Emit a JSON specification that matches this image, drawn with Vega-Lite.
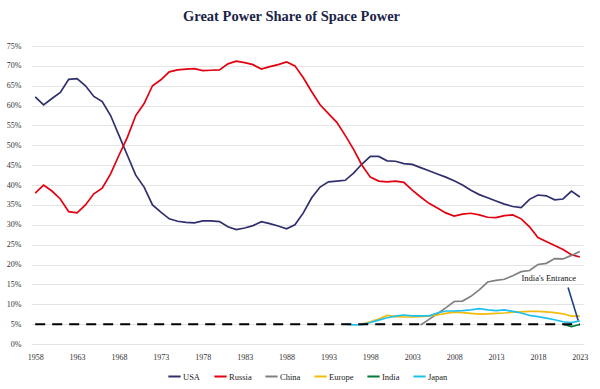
{
  "$schema": "https://vega.github.io/schema/vega-lite/v6.json",
  "width": 600,
  "height": 389,
  "autosize": {"type": "fit", "contains": "padding"},
  "padding": {"left": 6, "right": 12, "top": 8, "bottom": 8},
  "background": "white",
  "title": {"text": "Great Power Share of Space Power", "font": "Liberation Serif", "fontSize": 14.5, "fontWeight": "bold", "color": "#1B2448", "offset": 18, "dx": -16},
  "datasets": {
    "series": [
      {"country":"USA","year":1958,"share":62.2},{"country":"USA","year":1959,"share":60.2},{"country":"USA","year":1960,"share":61.8},{"country":"USA","year":1961,"share":63.3},{"country":"USA","year":1962,"share":66.6},{"country":"USA","year":1963,"share":66.8},{"country":"USA","year":1964,"share":65},{"country":"USA","year":1965,"share":62.3},{"country":"USA","year":1966,"share":61},{"country":"USA","year":1967,"share":57.5},
      {"country":"USA","year":1968,"share":52.5},{"country":"USA","year":1969,"share":47.5},{"country":"USA","year":1970,"share":42.5},{"country":"USA","year":1971,"share":39.5},{"country":"USA","year":1972,"share":35},{"country":"USA","year":1973,"share":33.2},{"country":"USA","year":1974,"share":31.5},{"country":"USA","year":1975,"share":30.9},{"country":"USA","year":1976,"share":30.6},{"country":"USA","year":1977,"share":30.5},
      {"country":"USA","year":1978,"share":31},{"country":"USA","year":1979,"share":31},{"country":"USA","year":1980,"share":30.8},{"country":"USA","year":1981,"share":29.5},{"country":"USA","year":1982,"share":28.8},{"country":"USA","year":1983,"share":29.2},{"country":"USA","year":1984,"share":29.8},{"country":"USA","year":1985,"share":30.8},{"country":"USA","year":1986,"share":30.3},{"country":"USA","year":1987,"share":29.7},
      {"country":"USA","year":1988,"share":29},{"country":"USA","year":1989,"share":30},{"country":"USA","year":1990,"share":33},{"country":"USA","year":1991,"share":36.8},{"country":"USA","year":1992,"share":39.5},{"country":"USA","year":1993,"share":40.8},{"country":"USA","year":1994,"share":41},{"country":"USA","year":1995,"share":41.2},{"country":"USA","year":1996,"share":43},{"country":"USA","year":1997,"share":45.3},
      {"country":"USA","year":1998,"share":47.2},{"country":"USA","year":1999,"share":47.2},{"country":"USA","year":2000,"share":46.1},{"country":"USA","year":2001,"share":46},{"country":"USA","year":2002,"share":45.4},{"country":"USA","year":2003,"share":45.2},{"country":"USA","year":2004,"share":44.4},{"country":"USA","year":2005,"share":43.6},{"country":"USA","year":2006,"share":42.8},{"country":"USA","year":2007,"share":42},
      {"country":"USA","year":2008,"share":41.1},{"country":"USA","year":2009,"share":40},{"country":"USA","year":2010,"share":38.7},{"country":"USA","year":2011,"share":37.6},{"country":"USA","year":2012,"share":36.8},{"country":"USA","year":2013,"share":36},{"country":"USA","year":2014,"share":35.2},{"country":"USA","year":2015,"share":34.6},{"country":"USA","year":2016,"share":34.3},{"country":"USA","year":2017,"share":36.4},
      {"country":"USA","year":2018,"share":37.5},{"country":"USA","year":2019,"share":37.3},{"country":"USA","year":2020,"share":36.3},{"country":"USA","year":2021,"share":36.5},{"country":"USA","year":2022,"share":38.5},{"country":"USA","year":2023,"share":37},

      {"country":"Russia","year":1958,"share":38},{"country":"Russia","year":1959,"share":40},{"country":"Russia","year":1960,"share":38.5},{"country":"Russia","year":1961,"share":36.5},{"country":"Russia","year":1962,"share":33.3},{"country":"Russia","year":1963,"share":33},{"country":"Russia","year":1964,"share":35},{"country":"Russia","year":1965,"share":37.8},{"country":"Russia","year":1966,"share":39.2},{"country":"Russia","year":1967,"share":42.8},
      {"country":"Russia","year":1968,"share":47.5},{"country":"Russia","year":1969,"share":52},{"country":"Russia","year":1970,"share":57.5},{"country":"Russia","year":1971,"share":60.5},{"country":"Russia","year":1972,"share":65},{"country":"Russia","year":1973,"share":66.5},{"country":"Russia","year":1974,"share":68.5},{"country":"Russia","year":1975,"share":69},{"country":"Russia","year":1976,"share":69.2},{"country":"Russia","year":1977,"share":69.3},
      {"country":"Russia","year":1978,"share":68.8},{"country":"Russia","year":1979,"share":68.9},{"country":"Russia","year":1980,"share":69},{"country":"Russia","year":1981,"share":70.5},{"country":"Russia","year":1982,"share":71.2},{"country":"Russia","year":1983,"share":70.8},{"country":"Russia","year":1984,"share":70.3},{"country":"Russia","year":1985,"share":69.2},{"country":"Russia","year":1986,"share":69.8},{"country":"Russia","year":1987,"share":70.3},
      {"country":"Russia","year":1988,"share":71},{"country":"Russia","year":1989,"share":70},{"country":"Russia","year":1990,"share":67},{"country":"Russia","year":1991,"share":63.5},{"country":"Russia","year":1992,"share":60.2},{"country":"Russia","year":1993,"share":58},{"country":"Russia","year":1994,"share":55.8},{"country":"Russia","year":1995,"share":52.5},{"country":"Russia","year":1996,"share":49},{"country":"Russia","year":1997,"share":45},
      {"country":"Russia","year":1998,"share":42},{"country":"Russia","year":1999,"share":41},{"country":"Russia","year":2000,"share":40.8},{"country":"Russia","year":2001,"share":41},{"country":"Russia","year":2002,"share":40.7},{"country":"Russia","year":2003,"share":38.7},{"country":"Russia","year":2004,"share":37},{"country":"Russia","year":2005,"share":35.4},{"country":"Russia","year":2006,"share":34.2},{"country":"Russia","year":2007,"share":33},
      {"country":"Russia","year":2008,"share":32.2},{"country":"Russia","year":2009,"share":32.7},{"country":"Russia","year":2010,"share":32.9},{"country":"Russia","year":2011,"share":32.5},{"country":"Russia","year":2012,"share":31.9},{"country":"Russia","year":2013,"share":31.8},{"country":"Russia","year":2014,"share":32.3},{"country":"Russia","year":2015,"share":32.5},{"country":"Russia","year":2016,"share":31.5},{"country":"Russia","year":2017,"share":29.5},
      {"country":"Russia","year":2018,"share":26.8},{"country":"Russia","year":2019,"share":25.8},{"country":"Russia","year":2020,"share":24.8},{"country":"Russia","year":2021,"share":23.8},{"country":"Russia","year":2022,"share":22.5},{"country":"Russia","year":2023,"share":21.9},

      {"country":"China","year":2004,"share":4.8},{"country":"China","year":2005,"share":6.2},{"country":"China","year":2006,"share":7.6},{"country":"China","year":2007,"share":9.1},{"country":"China","year":2008,"share":10.7},{"country":"China","year":2009,"share":10.8},{"country":"China","year":2010,"share":12},{"country":"China","year":2011,"share":13.6},{"country":"China","year":2012,"share":15.6},{"country":"China","year":2013,"share":16},
      {"country":"China","year":2014,"share":16.3},{"country":"China","year":2015,"share":17.2},{"country":"China","year":2016,"share":18.2},{"country":"China","year":2017,"share":18.5},{"country":"China","year":2018,"share":20},{"country":"China","year":2019,"share":20.3},{"country":"China","year":2020,"share":21.5},{"country":"China","year":2021,"share":21.4},{"country":"China","year":2022,"share":22.3},{"country":"China","year":2023,"share":23.3},

      {"country":"Europe","year":1997,"share":5},{"country":"Europe","year":1998,"share":5.6},{"country":"Europe","year":1999,"share":6.3},{"country":"Europe","year":2000,"share":7.2},{"country":"Europe","year":2001,"share":6.9},{"country":"Europe","year":2002,"share":6.8},{"country":"Europe","year":2003,"share":6.8},{"country":"Europe","year":2004,"share":6.9},{"country":"Europe","year":2005,"share":7},{"country":"Europe","year":2006,"share":7.3},
      {"country":"Europe","year":2007,"share":7.7},{"country":"Europe","year":2008,"share":8},{"country":"Europe","year":2009,"share":7.9},{"country":"Europe","year":2010,"share":7.7},{"country":"Europe","year":2011,"share":7.5},{"country":"Europe","year":2012,"share":7.6},{"country":"Europe","year":2013,"share":7.7},{"country":"Europe","year":2014,"share":7.8},{"country":"Europe","year":2015,"share":8},{"country":"Europe","year":2016,"share":8.1},
      {"country":"Europe","year":2017,"share":8.2},{"country":"Europe","year":2018,"share":8.2},{"country":"Europe","year":2019,"share":8.1},{"country":"Europe","year":2020,"share":7.9},{"country":"Europe","year":2021,"share":7.6},{"country":"Europe","year":2022,"share":7},{"country":"Europe","year":2023,"share":7},

      {"country":"India","year":2021,"share":5},{"country":"India","year":2022,"share":4.4},{"country":"India","year":2023,"share":4.9},

      {"country":"Japan","year":1995,"share":5},{"country":"Japan","year":1996,"share":4.8},{"country":"Japan","year":1997,"share":4.9},{"country":"Japan","year":1998,"share":5.4},{"country":"Japan","year":1999,"share":6},{"country":"Japan","year":2000,"share":6.6},{"country":"Japan","year":2001,"share":7},{"country":"Japan","year":2002,"share":7.3},{"country":"Japan","year":2003,"share":7.1},{"country":"Japan","year":2004,"share":7.1},
      {"country":"Japan","year":2005,"share":7.1},{"country":"Japan","year":2006,"share":7.8},{"country":"Japan","year":2007,"share":8.3},{"country":"Japan","year":2008,"share":8.3},{"country":"Japan","year":2009,"share":8.4},{"country":"Japan","year":2010,"share":8.6},{"country":"Japan","year":2011,"share":8.9},{"country":"Japan","year":2012,"share":8.6},{"country":"Japan","year":2013,"share":8.4},{"country":"Japan","year":2014,"share":8.6},
      {"country":"Japan","year":2015,"share":8.2},{"country":"Japan","year":2016,"share":7.8},{"country":"Japan","year":2017,"share":7.2},{"country":"Japan","year":2018,"share":6.9},{"country":"Japan","year":2019,"share":6.5},{"country":"Japan","year":2020,"share":6.1},{"country":"Japan","year":2021,"share":5.6},{"country":"Japan","year":2022,"share":5.4},{"country":"Japan","year":2023,"share":5.8}
    ]
  },
  "config": {
    "view": {"stroke": null},
    "font": "Liberation Serif",
    "axis": {"labelFont": "Liberation Serif", "labelFontSize": 8, "labelColor": "#333333", "domain": false, "ticks": false, "title": null},
    "axisY": {"labelOverlap": false, "labelSeparation": 0, "labelBound": false},
    "legend": {"labelFont": "Liberation Serif", "labelFontSize": 8.5, "labelColor": "#222222", "layout": {"bottom": {"anchor": "middle"}}}
  },
  "layer": [
    {
      "data": {"name": "series"},
      "mark": {"type": "line", "strokeWidth": 1.7, "interpolate": "linear"},
      "encoding": {
        "x": {"field": "year", "type": "quantitative", "scale": {"domain": [1957.5, 2023.5], "nice": false, "zero": false},
              "axis": {"values": [1958,1963,1968,1973,1978,1983,1988,1993,1998,2003,2008,2013,2018,2023], "format": "d", "grid": false, "labelPadding": 9, "labelFlush": false}},
        "y": {"field": "share", "type": "quantitative", "scale": {"domain": [0, 75], "nice": false},
              "axis": {"values": [0,5,10,15,20,25,30,35,40,45,50,55,60,65,70,75], "labelOverlap": false, "labelExpr": "datum.value + '%'", "grid": true, "gridColor": "#E4E4E4", "gridWidth": 1, "labelPadding": 10}},
        "color": {"field": "country", "type": "nominal",
                  "scale": {"domain": ["USA","Russia","China","Europe","India","Japan"], "range": ["#2F2F6E","#E3000F","#808080","#F3BC0C","#007A3D","#1EC0EE"]},
                  "legend": {"orient": "bottom", "title": null, "direction": "horizontal", "symbolType": "stroke", "symbolSize": 150, "symbolStrokeWidth": 2, "columnPadding": 9, "labelOffset": 1, "offset": 8}},
        "detail": {"field": "country"}
      }
    },
    {
      "data": {"values": [{}]},
      "mark": {"type": "rule", "color": "#000000", "strokeWidth": 2, "strokeDash": [10, 7]},
      "encoding": {"x": {"datum": 1958}, "x2": {"datum": 2023}, "y": {"datum": 5, "type": "quantitative", "axis": {"values": [0,5,10,15,20,25,30,35,40,45,50,55,60,65,70,75], "labelOverlap": false}}}
    },
    {
      "data": {"values": [{}]},
      "mark": {"type": "rule", "color": "#1F3F8F", "strokeWidth": 1.6},
      "encoding": {"x": {"datum": 2021.6}, "x2": {"datum": 2022.8}, "y": {"datum": 14.2, "type": "quantitative", "axis": {"values": [0,5,10,15,20,25,30,35,40,45,50,55,60,65,70,75], "labelOverlap": false}}, "y2": {"datum": 6.0}}
    },
    {
      "data": {"values": [{}]},
      "mark": {"type": "text", "font": "Liberation Serif", "fontSize": 8.5, "color": "#111111", "align": "center", "baseline": "middle"},
      "encoding": {"x": {"datum": 2019.3}, "y": {"datum": 16.5, "type": "quantitative", "axis": {"values": [0,5,10,15,20,25,30,35,40,45,50,55,60,65,70,75], "labelOverlap": false}}, "text": {"value": "India's Entrance"}}
    }
  ]
}
